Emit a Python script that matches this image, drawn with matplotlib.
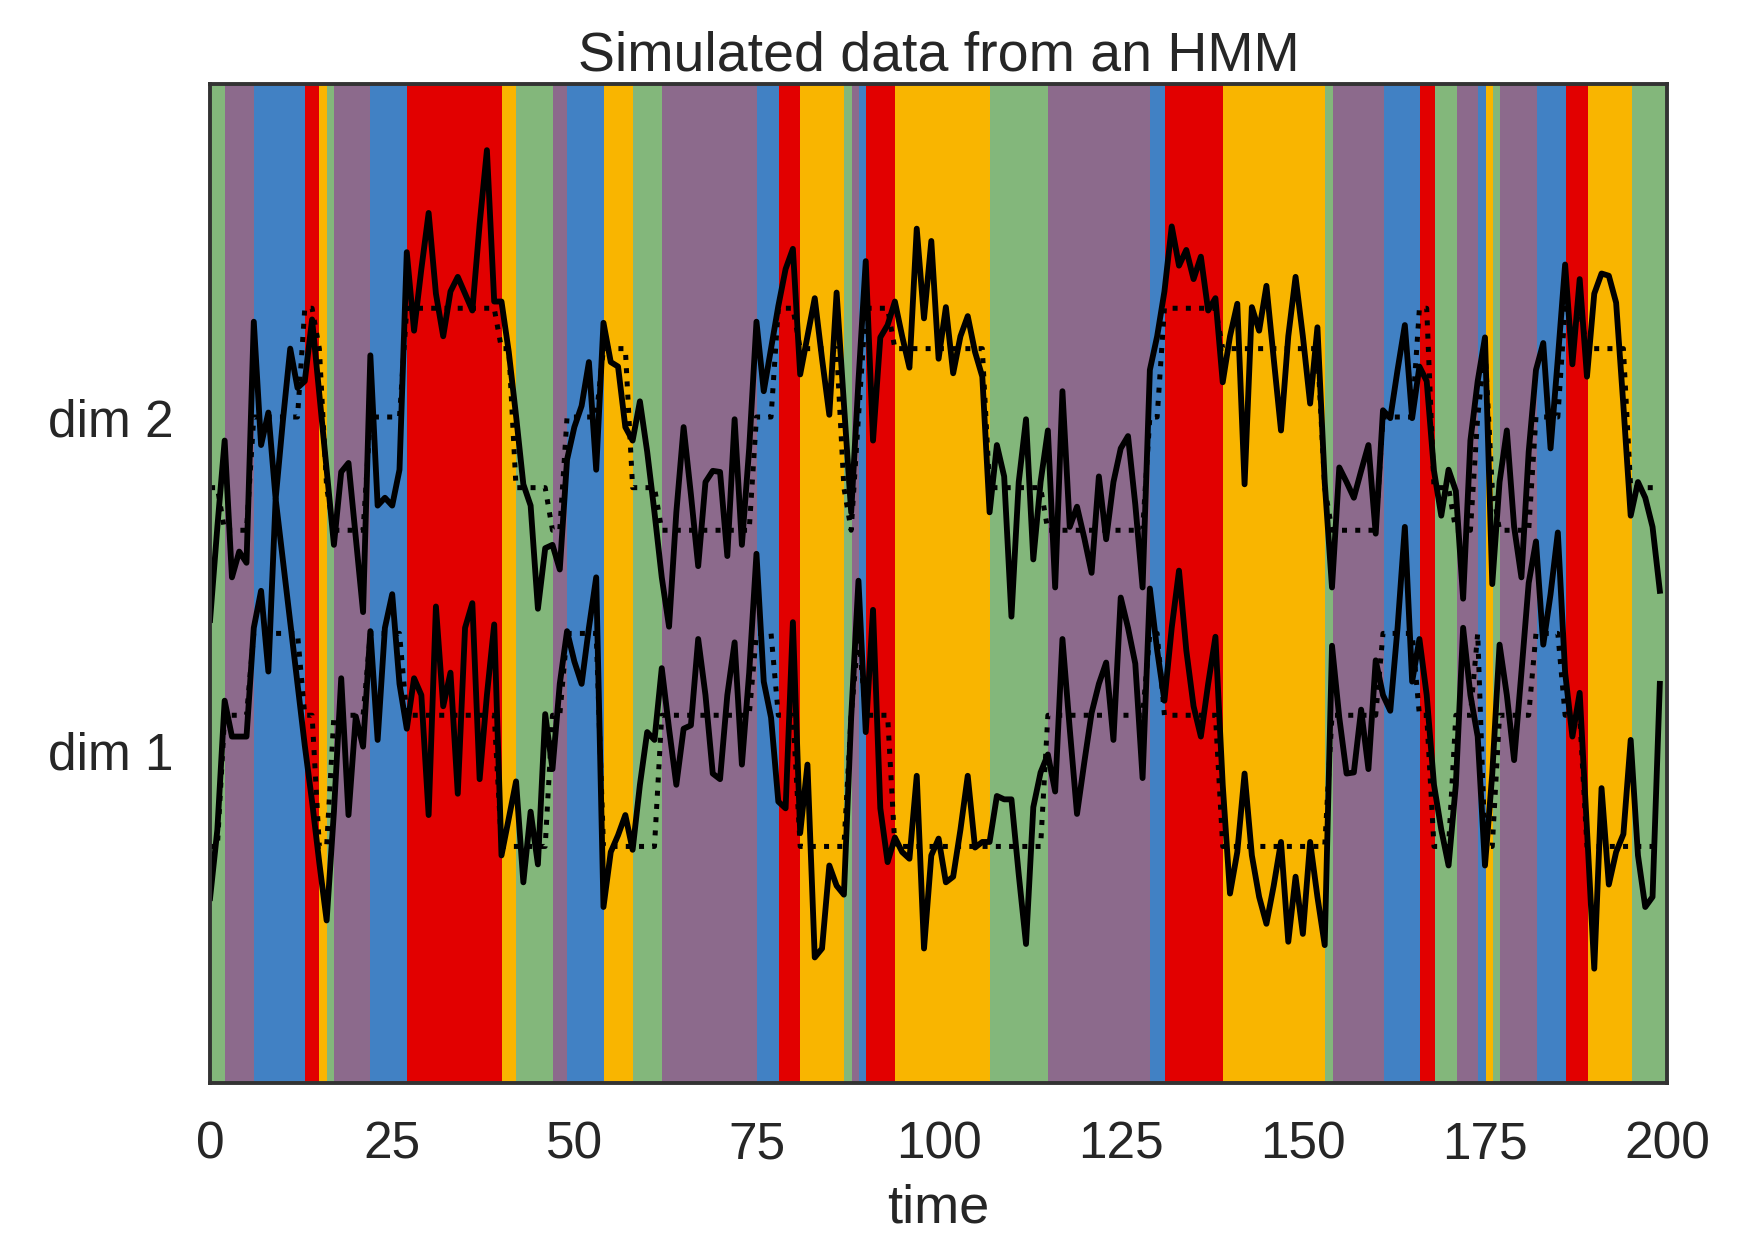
import numpy as np
import matplotlib
matplotlib.use("Agg")
import matplotlib.pyplot as plt
from matplotlib.colors import ListedColormap

plt.rcParams['font.family'] = ['Liberation Sans', 'DejaVu Sans']

# state colours: blue, red, amber, green, purple
state_colors = ["#4181c4", "#e20000", "#f9b500", "#83b77b", "#8c6a8c"]

# hidden state sequence, stored as runs
run_states = [3, 4, 0, 1, 2, 3, 4, 0, 1, 2, 3, 4, 0, 2, 3, 4, 0, 1, 2, 3, 4, 0,
              1, 2, 3, 4, 0, 1, 2, 3, 4, 0, 1, 3, 4, 0, 2, 3, 4, 0, 1, 2, 3]
run_lengths = [2, 4, 7, 2, 1, 1, 5, 5, 13, 2, 5, 2, 5, 4, 4, 13, 3, 3, 6, 1, 1, 1,
               4, 13, 8, 14, 2, 8, 14, 1, 7, 5, 2, 3, 3, 1, 1, 1, 5, 4, 3, 6, 5]

# state means (dim 1, dim 2)
mean_dim1 = [1.04, 0.31, -0.86, -0.86, 0.31]
mean_dim2 = [0.00, 0.97, 0.61, -0.63, -1.01]

# observations
dim1 = [-1.32, -0.71, 0.44, 0.12, 0.12, 0.12, 1.09, 1.42, 0.70, 2.24,
        1.69, 1.14, 0.59, 0.04, -0.46, -1.01, -1.52, -0.55, 0.64, -0.58,
        0.30, 0.03, 1.06, 0.09, 1.09, 1.39, 0.59, 0.19, 0.64, 0.49,
        -0.58, 1.28, 0.39, 0.69, -0.39, 1.09, 1.31, -0.26, 0.49, 1.12,
        -0.94, -0.61, -0.28, -1.18, -0.55, -1.02, 0.32, -0.17, 0.59, 1.06,
        0.79, 0.59, 1.09, 1.54, -1.40, -0.91, -0.76, -0.58, -0.89, -0.31,
        0.16, 0.09, 0.73, 0.19, -0.31, 0.19, 0.22, 0.99, 0.49, -0.21,
        -0.26, 0.49, 0.96, -0.13, 0.69, 1.75, 0.61, 0.29, -0.46, -0.52,
        1.14, -0.74, -0.13, -1.85, -1.77, -1.03, -1.21, -1.29, 0.29, 1.51,
        0.16, 1.25, -0.52, -1.00, -0.78, -0.91, -0.97, -0.23, -1.77, -0.94,
        -0.79, -1.18, -1.13, -0.71, -0.23, -0.87, -0.82, -0.82, -0.41, -0.44,
        -0.44, -1.11, -1.73, -0.51, -0.20, -0.04, -0.37, 0.99, 0.19, -0.57,
        -0.11, 0.33, 0.59, 0.78, 0.09, 1.36, 1.09, 0.77, -0.25, 1.44,
        0.89, 0.44, 1.09, 1.60, 0.89, 0.39, 0.12, 0.59, 1.01, -0.31,
        -1.28, -0.91, -0.21, -0.94, -1.31, -1.55, -1.21, -0.82, -1.71, -1.13,
        -1.64, -0.82, -1.31, -1.74, 0.93, 0.29, -0.21, -0.20, 0.36, -0.17,
        0.80, 0.49, 0.35, 1.09, 1.99, 0.61, 0.99, 0.49, -0.31, -0.71,
        -1.03, -0.31, 1.09, 0.49, 0.12, -1.03, -0.21, 0.94, 0.49, -0.09,
        0.69, 1.49, 1.86, 0.94, 1.39, 1.94, 0.69, 0.12, 0.51, -0.71,
        -1.95, -0.34, -1.20, -0.91, -0.75, 0.09, -0.94, -1.40, -1.31, 0.59]

dim2 = [-1.81, -0.98, -0.21, -1.43, -1.20, -1.30, 0.85, -0.25, 0.04, -0.73,
        -0.03, 0.61, 0.26, 0.32, 0.87, 0.20, -0.47, -1.14, -0.49, -0.41,
        -1.08, -1.74, 0.55, -0.79, -0.72, -0.79, -0.47, 1.47, 0.77, 1.32,
        1.82, 1.10, 0.72, 1.12, 1.25, 1.10, 0.95, 1.72, 2.38, 1.03,
        1.03, 0.58, 0.01, -0.60, -0.79, -1.71, -1.17, -1.14, -1.36, -0.38,
        -0.09, 0.10, 0.49, -0.47, 0.84, 0.49, 0.45, -0.09, -0.21, 0.14,
        -0.31, -0.85, -1.43, -1.87, -0.85, -0.09, -0.69, -1.33, -0.58, -0.48,
        -0.49, -1.24, -0.02, -1.14, -0.28, 0.85, 0.23, 0.61, 0.99, 1.32,
        1.50, 0.38, 0.72, 1.06, 0.52, 0.02, 1.11, 0.12, -0.85, 0.32,
        1.39, -0.21, 0.71, 0.82, 1.03, 0.72, 0.44, 1.68, 0.88, 1.57,
        0.52, 0.98, 0.39, 0.72, 0.90, 0.58, 0.36, -0.85, -0.25, -0.53,
        -1.78, -0.58, -0.02, -1.27, -0.58, -0.12, -1.52, 0.23, -0.98, -0.80,
        -1.08, -1.39, -0.53, -1.09, -0.58, -0.28, -0.17, -0.78, -1.52, 0.42,
        0.72, 1.12, 1.70, 1.35, 1.49, 1.23, 1.43, 0.95, 1.06, 0.31,
        0.72, 1.01, -0.60, 0.98, 0.77, 1.17, 0.52, -0.12, 0.72, 1.25,
        0.72, 0.12, 0.80, -0.58, -1.52, -0.45, -0.58, -0.72, -0.48, -0.25,
        -1.04, 0.06, -0.01, 0.42, 0.82, -0.01, 0.45, 0.32, -0.48, -0.88,
        -0.47, -0.66, -1.62, -0.21, 0.32, 0.71, -1.49, -0.58, -0.12, -0.98,
        -1.43, -0.31, 0.42, 0.66, -0.28, 0.52, 1.36, 0.47, 1.23, 0.36,
        1.10, 1.28, 1.26, 1.02, 0.10, -0.88, -0.58, -0.72, -0.98, -1.55]

z = np.repeat(run_states, run_lengths)
x = np.column_stack([dim1, dim2])
mus = np.column_stack([mean_dim1, mean_dim2])
T, D = x.shape
lim = 2.97

cmap = ListedColormap(state_colors)

fig = plt.figure(figsize=(17.58, 12.41), dpi=100)
ax = fig.add_axes([0.1195, 0.1273, 0.8288, 0.805])

ax.imshow(z[None, :], aspect="auto", cmap=cmap, vmin=0, vmax=len(state_colors) - 1,
          extent=(0, T, -lim, D * lim), interpolation="nearest")

# observed data (solid) and state means (dotted)
Ey = mus[z]
for d in range(D):
    ax.plot(x[:, d] + lim * d, '-k', lw=4.2, solid_joinstyle="round")
    ax.plot(Ey[:, d] + lim * d, ':k', lw=3.6)

ax.set_xlim(0, T)
ax.set_ylim(-lim, D * lim)
ax.set_xticks(np.arange(0, T + 1, 25))
ax.set_yticks(lim * np.arange(D))
ax.set_yticklabels(["dim {}".format(d + 1) for d in range(D)])
ax.tick_params(length=0, labelsize=37, colors="#262626")
ax.tick_params(axis="x", pad=27)
ax.tick_params(axis="y", pad=26)
ax.set_xlabel("time", fontsize=39, color="#262626", labelpad=10)
ax.set_title("Simulated data from an HMM", fontsize=40, color="#262626", pad=10)
for s in ax.spines.values():
    s.set_color("#333333")
    s.set_linewidth(2.8)

fig.savefig("out.png", dpi=100)
